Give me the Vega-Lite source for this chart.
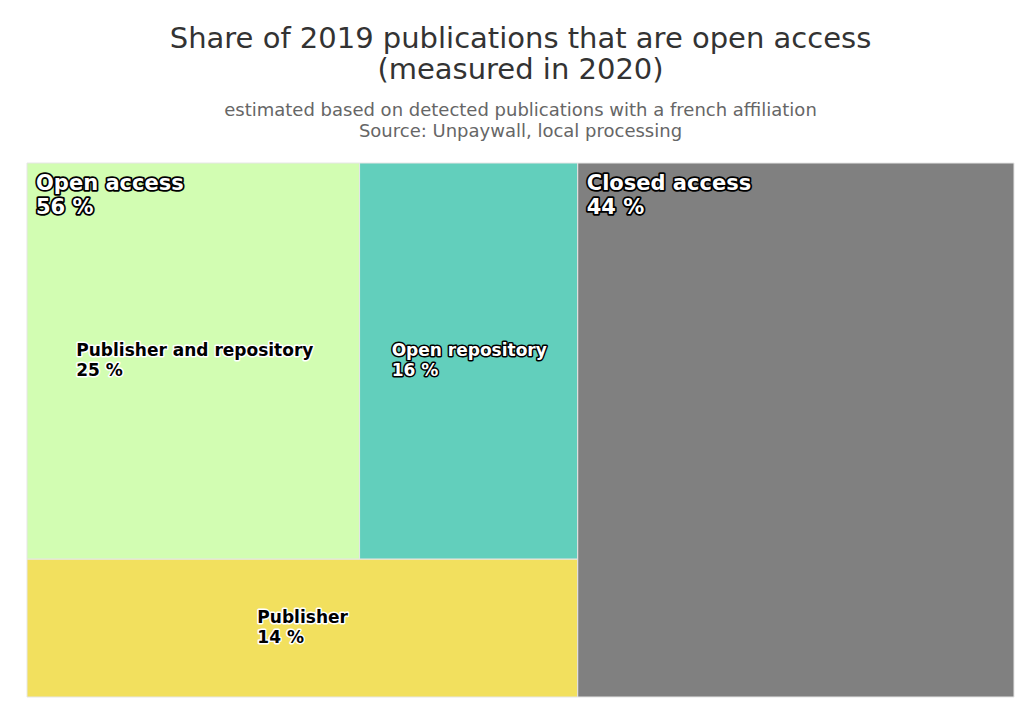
{
  "$schema": "https://vega.github.io/schema/vega-lite/v6.json",
  "width": 987,
  "height": 534,
  "padding": {"left": 26, "top": 24, "right": 6, "bottom": 0},
  "background": "white",
  "config": {"font": "DejaVu Sans", "view": {"stroke": null}},
  "title": {
    "text": ["Share of 2019 publications that are open access", "(measured in 2020)"],
    "subtitle": ["estimated based on detected publications with a french affiliation", "Source: Unpaywall, local processing"],
    "anchor": "middle",
    "frame": "group",
    "font": "DejaVu Sans",
    "fontSize": 29,
    "fontWeight": "normal",
    "lineHeight": 31,
    "color": "#333333",
    "subtitleFont": "DejaVu Sans",
    "subtitleFontSize": 18,
    "subtitleLineHeight": 21,
    "subtitleColor": "#666666",
    "subtitlePadding": 17,
    "offset": 22
  },
  "data": {
    "values": [
      {"name": "Publisher and repository", "parent": "Open access", "row": 1, "order": 1, "share": 25.0},
      {"name": "Open repository", "parent": "Open access", "row": 1, "order": 2, "share": 16.4},
      {"name": "Publisher", "parent": "Open access", "row": 2, "order": 3, "share": 14.4},
      {"name": "Closed access", "parent": "Closed access", "row": 1, "order": 4, "share": 44.2}
    ]
  },
  "transform": [
    {"stack": "share", "groupby": [], "sort": [{"field": "order"}], "as": ["gx0", "gx1"]},
    {"joinaggregate": [
      {"op": "min", "field": "gx0", "as": "px0"},
      {"op": "max", "field": "gx1", "as": "px1"},
      {"op": "sum", "field": "share", "as": "ptotal"}
    ], "groupby": ["parent"]},
    {"stack": "share", "groupby": ["parent"], "sort": [{"field": "order"}], "offset": "normalize", "as": ["ny0", "ny1"]},
    {"joinaggregate": [
      {"op": "min", "field": "ny0", "as": "ry0"},
      {"op": "max", "field": "ny1", "as": "ry1"}
    ], "groupby": ["parent", "row"]},
    {"stack": "share", "groupby": ["parent", "row"], "sort": [{"field": "order"}], "offset": "normalize", "as": ["nx0", "nx1"]},
    {"calculate": "datum.px0 + datum.nx0 * (datum.px1 - datum.px0)", "as": "x0"},
    {"calculate": "datum.px0 + datum.nx1 * (datum.px1 - datum.px0)", "as": "x1"},
    {"calculate": "(datum.x0 + datum.x1) / 2", "as": "cx"},
    {"calculate": "(datum.ry0 + datum.ry1) / 2", "as": "cy"},
    {"calculate": "[datum.name, format(datum.share, '.0f') + ' %']", "as": "label"},
    {"calculate": "[datum.parent, format(datum.ptotal, '.0f') + ' %']", "as": "plabel"}
  ],
  "layer": [
    {
      "mark": {"type": "rect", "stroke": "#e6e6e6", "strokeWidth": 1},
      "encoding": {
        "x": {"field": "x0", "type": "quantitative", "scale": {"domain": [0, 100], "nice": false, "zero": false}, "axis": null},
        "x2": {"field": "x1"},
        "y": {"field": "ry0", "type": "quantitative", "scale": {"domain": [0, 1], "reverse": true, "nice": false, "zero": false}, "axis": null},
        "y2": {"field": "ry1"},
        "color": {
          "field": "name",
          "type": "nominal",
          "scale": {
            "domain": ["Publisher and repository", "Open repository", "Publisher", "Closed access"],
            "range": ["#d2fdb2", "#62cfbc", "#f2e05e", "#808080"]
          },
          "legend": null
        }
      }
    },
    {
      "transform": [{"filter": "datum.nx0 == 0 && datum.ry0 == 0"}],
      "encoding": {
        "x": {"field": "px0", "type": "quantitative"},
        "y": {"field": "ry0", "type": "quantitative"},
        "text": {"field": "plabel", "type": "nominal"}
      },
      "layer": [
        {"mark": {"type": "text", "align": "left", "baseline": "alphabetic", "dx": 9, "dy": 27, "fontSize": 21, "fontWeight": "bold", "lineHeight": 24, "fill": "black", "stroke": "black", "strokeWidth": 3.5, "strokeJoin": "round"}},
        {"mark": {"type": "text", "align": "left", "baseline": "alphabetic", "dx": 9, "dy": 27, "fontSize": 21, "fontWeight": "bold", "lineHeight": 24, "fill": "white"}}
      ]
    },
    {
      "transform": [{"filter": "datum.name == 'Publisher and repository'"}],
      "encoding": {
        "x": {"field": "cx", "type": "quantitative"},
        "y": {"field": "cy", "type": "quantitative"},
        "text": {"field": "label", "type": "nominal"}
      },
      "layer": [
        {"mark": {"type": "text", "align": "left", "baseline": "middle", "dx": -117, "dy": -10, "fontSize": 17, "fontWeight": "bold", "lineHeight": 20, "fill": "white", "stroke": "white", "strokeWidth": 3, "strokeJoin": "round"}},
        {"mark": {"type": "text", "align": "left", "baseline": "middle", "dx": -117, "dy": -10, "fontSize": 17, "fontWeight": "bold", "lineHeight": 20, "fill": "black"}}
      ]
    },
    {
      "transform": [{"filter": "datum.name == 'Open repository'"}],
      "encoding": {
        "x": {"field": "cx", "type": "quantitative"},
        "y": {"field": "cy", "type": "quantitative"},
        "text": {"field": "label", "type": "nominal"}
      },
      "layer": [
        {"mark": {"type": "text", "align": "left", "baseline": "middle", "dx": -77, "dy": -10, "fontSize": 17, "fontWeight": "bold", "lineHeight": 20, "fill": "black", "stroke": "black", "strokeWidth": 3, "strokeJoin": "round"}},
        {"mark": {"type": "text", "align": "left", "baseline": "middle", "dx": -77, "dy": -10, "fontSize": 17, "fontWeight": "bold", "lineHeight": 20, "fill": "white"}}
      ]
    },
    {
      "transform": [{"filter": "datum.name == 'Publisher'"}],
      "encoding": {
        "x": {"field": "cx", "type": "quantitative"},
        "y": {"field": "cy", "type": "quantitative"},
        "text": {"field": "label", "type": "nominal"}
      },
      "layer": [
        {"mark": {"type": "text", "align": "left", "baseline": "middle", "dx": -45, "dy": -10, "fontSize": 17, "fontWeight": "bold", "lineHeight": 20, "fill": "white", "stroke": "white", "strokeWidth": 3, "strokeJoin": "round"}},
        {"mark": {"type": "text", "align": "left", "baseline": "middle", "dx": -45, "dy": -10, "fontSize": 17, "fontWeight": "bold", "lineHeight": 20, "fill": "black"}}
      ]
    }
  ]
}
